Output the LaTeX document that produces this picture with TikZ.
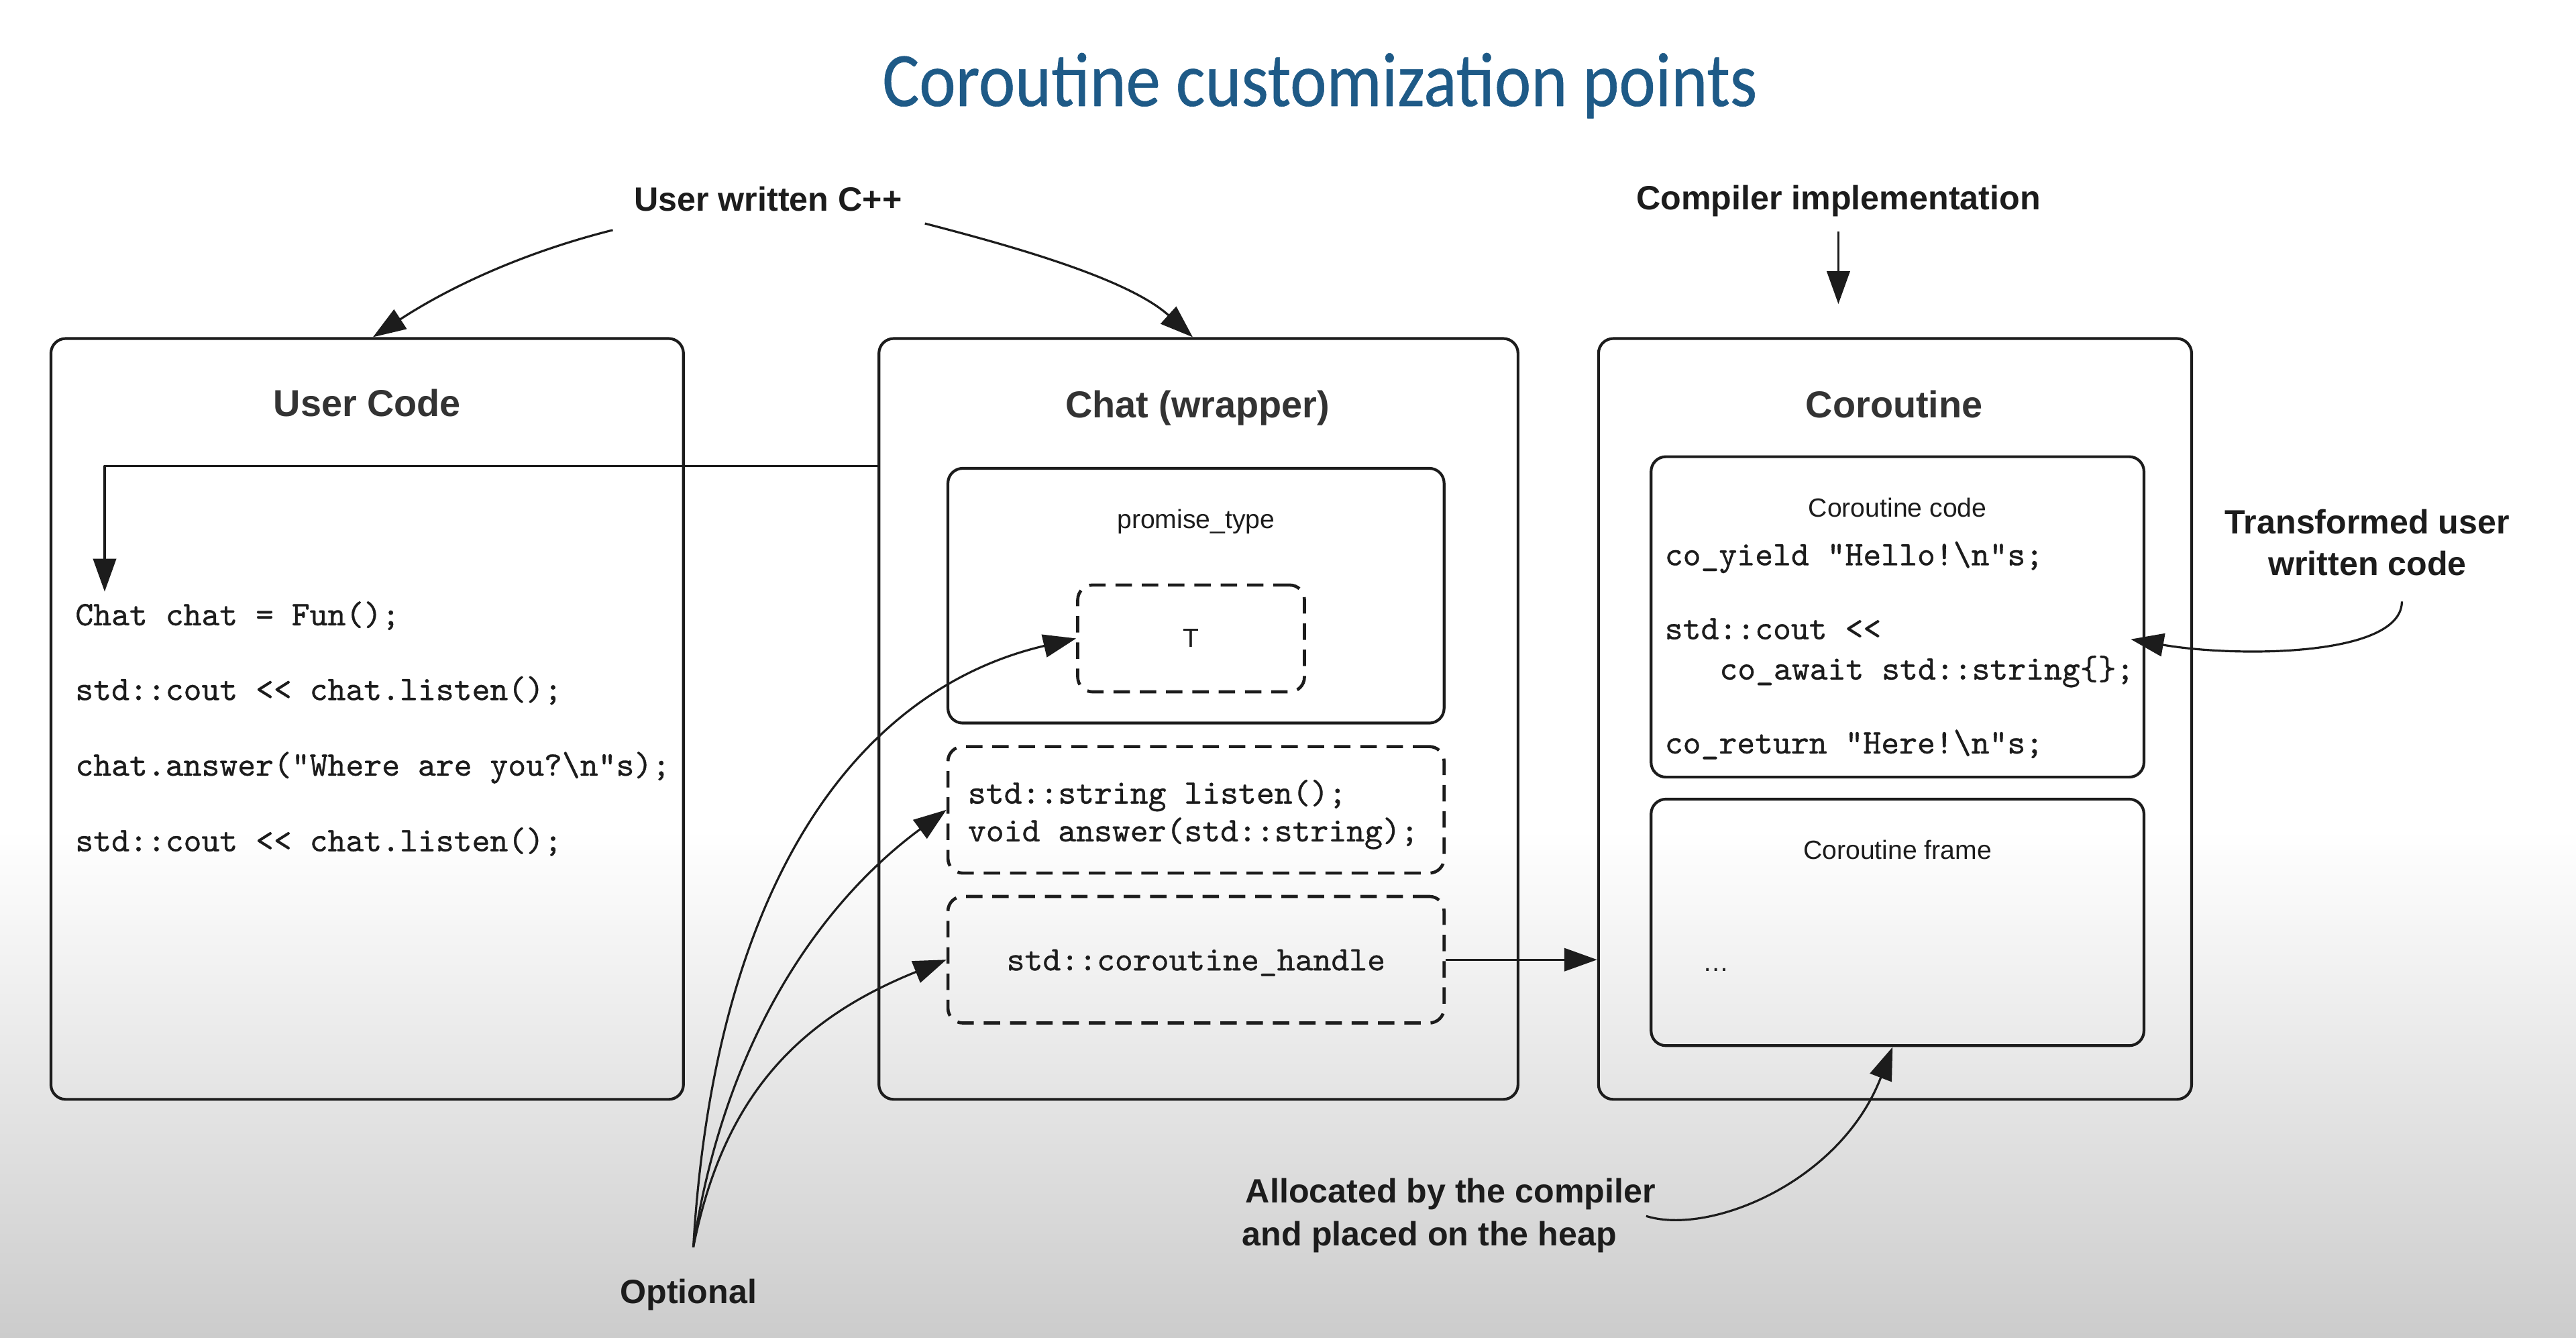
\documentclass[tikz,border=0pt]{standalone}
\usepackage{fontspec}
\usepackage{graphicx}
\usetikzlibrary{arrows.meta}
\setmainfont{Liberation Sans}
\newfontfamily\titlefont[FakeBold=0.5]{Carlito}
\newfontfamily\codefont[FakeBold=0.7]{lmmono10-regular.otf}
\definecolor{titleblue}{RGB}{30,90,135}
\definecolor{ink}{RGB}{28,28,28}
\definecolor{headgray}{RGB}{51,51,51}
\definecolor{bggray}{RGB}{204,204,204}
\tikzset{
  box/.style={draw=ink, line width=1.7pt, rounded corners=9pt, inner sep=0pt},
  dbox/.style={box, line width=1.9pt, dash pattern=on 10pt off 6pt},
  head/.style={font=\bfseries\fontsize{22.8}{26}\selectfont, text=headgray, inner sep=0pt, anchor=base},
  lbl/.style={font=\bfseries\fontsize{20.5}{25}\selectfont, text=ink, inner sep=0pt},
  small/.style={font=\fontsize{16}{19}\selectfont, text=ink, inner sep=0pt, anchor=base},
  code/.style={font=\codefont\fontsize{20.9}{23}\selectfont, text=ink, inner sep=0pt, anchor=base west},
  conn/.style={draw=ink, line width=1.3pt, -{Triangle[length=20pt,width=14pt]}},
}
\begin{document}
\begin{tikzpicture}[x=1pt, y=-1pt, line join=round]
\useasboundingbox (0,0) rectangle (1568,814.2);
\fill[white] (0,0) rectangle (1568,814.2);
\shade[top color=white, bottom color=bggray] (0,505) rectangle (1568,814.2);

% title
\node[anchor=base, inner sep=0pt, text=titleblue, font=\titlefont\fontsize{46.7}{50}\selectfont] (title) at (803.4,64.5) {\scalebox{0.9}[1]{Coroutine customization points}};

% main boxes
\node[box, minimum width=385pt, minimum height=463pt] (ucbox) at (223.5,437.5) {};
\node[box, minimum width=389pt, minimum height=463pt] (chatbox) at (729.5,437.5) {};
\node[box, minimum width=361pt, minimum height=463pt] (corbox) at (1153.5,437.5) {};

\node[head] (uchead) at (223.5,253.5) {User Code};
\node[head] (chathead) at (729,254) {Chat (wrapper)};
\node[head] (corhead) at (1153,254) {Coroutine};

% user code
\node[code] (uc1) at (45.7,380.5) {Chat chat = Fun();};
\node[code] (uc2) at (45.7,426) {std::cout << chat.listen();};
\node[code] (uc3) at (45.7,472) {chat.answer("Where are you?\textbackslash n"s);};
\node[code] (uc4) at (45.7,518) {std::cout << chat.listen();};

% chat wrapper internals
\node[box, minimum width=302pt, minimum height=155pt] (promise) at (728,362.5) {};
\node[small] (promiselbl) at (728,321.5) {promise\_type};
\node[dbox, minimum width=138pt, minimum height=65pt, font=\fontsize{16}{19}\selectfont, text=ink] (tbox) at (725,388.5) {T};
\node[dbox, minimum width=302pt, minimum height=77pt] (api) at (728,492.8) {};
\node[code] (api1) at (589,489) {std::string listen();};
\node[code] (api2) at (589,512) {void answer(std::string);};
\node[dbox, minimum width=302pt, minimum height=77pt] (handle) at (728,584) {};
\node[code, anchor=base] (handlelbl) at (728,590.5) {std::coroutine\_handle};

% coroutine internals
\node[box, minimum width=300pt, minimum height=195pt] (codebox) at (1155,375.4) {};
\node[small] (codelbl) at (1155,314.5) {Coroutine code};
\node[code] (cc1) at (1013.2,344) {co\_yield "Hello!\textbackslash n"s;};
\node[code] (cc2) at (1013.2,389) {std::cout <<};
\node[code] (cc3) at (1046.5,413.5) {co\_await std::string\{\};};
\node[code] (cc4) at (1013.2,458.5) {co\_return "Here!\textbackslash n"s;};
\node[box, minimum width=300pt, minimum height=150pt] (framebox) at (1155,561.3) {};
\node[small] (framelbl) at (1155,523) {Coroutine frame};
\node[small] (dots) at (1044.5,591) {…};

% labels
\node[lbl, anchor=base] (uw) at (467.5,128.5) {User written C++};
\node[lbl, anchor=base] (ci) at (1119,127.5) {Compiler implementation};
\node[lbl, anchor=base] (trans1) at (1441,325) {Transformed user};
\node[lbl, anchor=base] (trans2) at (1441,350) {written code};
\node[lbl, anchor=base west] (alloc1) at (758,732) {Allocated by the compiler};
\node[lbl, anchor=base west] (alloc2) at (756,758) {and placed on the heap};
\node[lbl, anchor=base] (optional) at (419,793) {Optional};

% free ends
\coordinate (uwL) at (373,140);
\coordinate (uwR) at (563,136);
\coordinate (ciS) at (1119,141);
\coordinate (ciE) at (1119,185);
\coordinate (ucin) at (63.7,360);
\coordinate (opt) at (422,759);
\coordinate (transS) at (1462,366);
\coordinate (transE) at (1297,389);
\coordinate (allocS) at (1002,740);

% connectors
\draw[conn] (uwL) .. controls (323,152.5) and (277,172.5) .. (ucbox.north -| 227,0);
\draw[conn] (uwR) .. controls (613,149) and (686,169) .. (chatbox.north -| 726,0);
\draw[conn] (ciS) -- (ciE);
\draw[conn] (chatbox.west |- 0,283.5) -| (ucin);
\draw[conn] (opt) .. controls (435,540) and (520,420) .. (tbox.west);
\draw[conn] (opt) .. controls (440,639) and (495,552.6) .. (api.west);
\draw[conn] (opt) .. controls (440,669) and (484,621) .. (handle.west);
\draw[conn] (handle.east) -- (corbox.west |- handle.east);
\draw[conn] (transS) .. controls (1462,400) and (1360,400) .. (transE);
\draw[conn] (allocS) .. controls (1040,752) and (1120,720) .. (framebox.south -| 1152,0);
\end{tikzpicture}
\end{document}
